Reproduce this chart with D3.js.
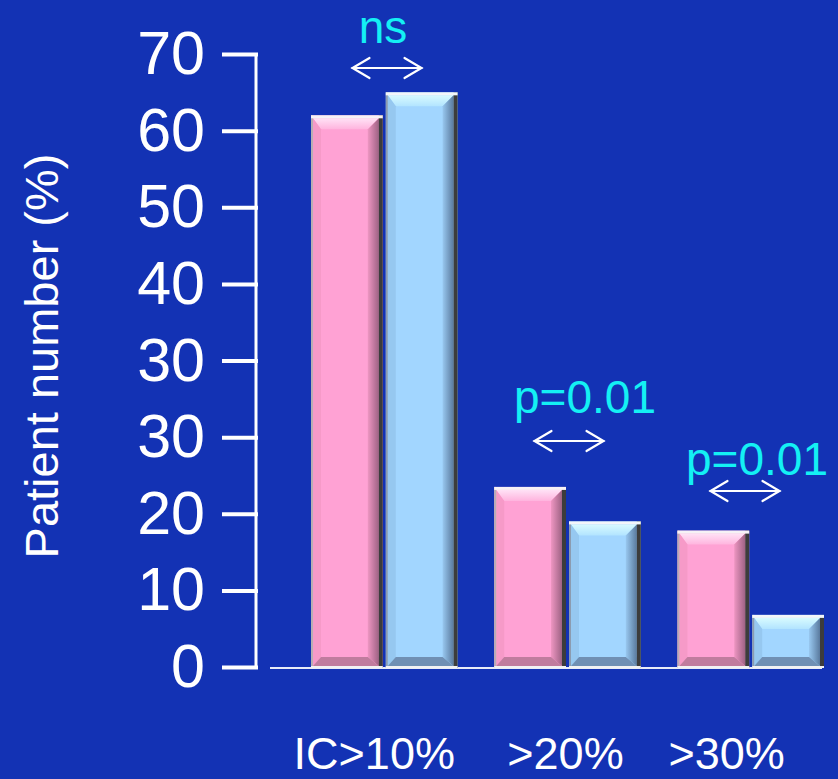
<!DOCTYPE html>
<html>
<head>
<meta charset="utf-8">
<script src="https://cdn.jsdelivr.net/npm/d3@7"></script>
<style>
  html, body { margin: 0; padding: 0; background: #1332b4; }
  svg { display: block; }
  text { font-family: "Liberation Sans", Arial, sans-serif; }
</style>
</head>
<body>
<svg id="chart" width="838" height="779"></svg>
<script>
// Threshold groups along the x axis
const categories = ["IC>10%", ">20%", ">30%"];
// Patient share (%) per group, two cohorts
const pinkValues = [62, 23.5, 17.8];
const blueValues = [65, 19, 6.8];
// Y-axis tick labels, bottom to top (as printed on the slide)
const yTickLabels = ["0", "10", "20", "30", "30", "40", "50", "60", "70"];
// Significance note above each group
const statLabels = ["ns", "p=0.01", "p=0.01"];

const W = 838, H = 779;
const svg = d3.select("#chart");
svg.append("rect").attr("width", W).attr("height", H).attr("fill", "#1332b4");

const y0 = 667, yTop = 54;
// tick index -> pixel
const yIndex = d3.scaleLinear().domain([0, yTickLabels.length - 1]).range([y0, yTop]);
// value -> tick index (the printed labels repeat 30, so values above 30 sit one step higher)
const valueToIndex = d3.scaleLinear().domain([0, 30, 40, 70]).range([0, 3, 5, 8]);
const y = v => yIndex(valueToIndex(v));

const x = d3.scaleBand().domain(categories).range([311, 824]).paddingInner(0.2).paddingOuter(0);
const series = ["pink", "blue"];
const xSub = d3.scaleBand().domain(series).range([0, x.bandwidth()]).paddingInner(0.04);

const palettes = {
  pink: { face: "#ffa2d4", top0: "#ffe2f6", top1: "#ffb4de", left: "#f69ac8",
          right0: "#ee96c2", right1: "#9e6284", bottom: "#c07c9e",
          fL: "#b8aeb4", fT: "#f6f2f6", fR: "#3c3c3c", fB: "#f2f2f2" },
  blue: { face: "#a2d6ff", top0: "#d8fbff", top1: "#b2e4ff", left: "#96c8f0",
          right0: "#98c8f0", right1: "#5a7a9e", bottom: "#7090b4",
          fL: "#8c9cb0", fT: "#f2f6fa", fR: "#3c3c3c", fB: "#f2f2f2" }
};

const defs = svg.append("defs");
Object.entries(palettes).forEach(([k, p]) => {
  const gt = defs.append("linearGradient").attr("id", "top-" + k)
    .attr("x1", 0).attr("y1", 0).attr("x2", 0).attr("y2", 1);
  gt.append("stop").attr("offset", "0%").attr("stop-color", p.top0);
  gt.append("stop").attr("offset", "100%").attr("stop-color", p.top1);
  const gr = defs.append("linearGradient").attr("id", "right-" + k)
    .attr("x1", 0).attr("y1", 0).attr("x2", 1).attr("y2", 0);
  gr.append("stop").attr("offset", "0%").attr("stop-color", p.right0);
  gr.append("stop").attr("offset", "100%").attr("stop-color", p.right1);
});

// Bevelled bar: frame strips plus four trapezoid facets around a flat face
function bevelBar(g, bx, by, bw, bh, key) {
  const p = palettes[key];
  const pts = a => a.map(d => d.join(",")).join(" ");
  g.append("rect").attr("x", bx).attr("y", by).attr("width", bw).attr("height", bh).attr("fill", p.face);
  const ix = bx + 2, iy = by + 3, iw = bw - 6, ih = bh - 5;
  const t = Math.min(11, ih / 2), b = Math.min(9, ih / 2), s = 8, r = 11;
  g.append("polygon").attr("fill", "url(#top-" + key + ")")
    .attr("points", pts([[ix, iy], [ix + iw, iy], [ix + iw - r, iy + t], [ix + s, iy + t]]));
  g.append("polygon").attr("fill", p.left)
    .attr("points", pts([[ix, iy], [ix + s, iy + t], [ix + s, iy + ih - b], [ix, iy + ih]]));
  g.append("polygon").attr("fill", "url(#right-" + key + ")")
    .attr("points", pts([[ix + iw, iy], [ix + iw, iy + ih], [ix + iw - r, iy + ih - b], [ix + iw - r, iy + t]]));
  g.append("polygon").attr("fill", p.bottom)
    .attr("points", pts([[ix, iy + ih], [ix + s, iy + ih - b], [ix + iw - r, iy + ih - b], [ix + iw, iy + ih]]));
  // frame
  g.append("rect").attr("x", bx).attr("y", by).attr("width", 2).attr("height", bh).attr("fill", p.fL);
  g.append("rect").attr("x", bx + bw - 4).attr("y", by).attr("width", 4).attr("height", bh).attr("fill", p.fR);
  g.append("rect").attr("x", bx).attr("y", by).attr("width", bw).attr("height", 3).attr("fill", p.fT);
  g.append("rect").attr("x", bx).attr("y", by + bh - 2).attr("width", bw).attr("height", 2).attr("fill", p.fB);
}

// baseline
svg.append("line").attr("x1", 270).attr("x2", 822).attr("y1", y0 + 1).attr("y2", y0 + 1)
  .attr("stroke", "#e8ecf8").attr("stroke-width", 2);

const bars = svg.append("g");
categories.forEach((c, i) => {
  const vals = { pink: pinkValues[i], blue: blueValues[i] };
  series.forEach(sKey => {
    const bx = x(c) + xSub(sKey);
    const by = y(vals[sKey]);
    bevelBar(bars, bx, by, xSub.bandwidth(), y0 + 1 - by, sKey);
  });
});

// y axis
const axis = d3.axisLeft(yIndex)
  .tickValues(d3.range(yTickLabels.length))
  .tickFormat(i => yTickLabels[i])
  .tickSize(34).tickPadding(17);
const ag = svg.append("g").attr("transform", "translate(256,0)").call(axis);
ag.select(".domain").remove();
ag.append("line").attr("x1", 0).attr("x2", 0).attr("y1", yTop - 1).attr("y2", y0 + 1)
  .attr("stroke", "#ffffff").attr("stroke-width", 3);
ag.selectAll(".tick line").attr("stroke", "#ffffff").attr("stroke-width", 4).attr("x2", -34).attr("x1", 2);
ag.selectAll(".tick text").attr("fill", "#ffffff").attr("font-size", 61)
  .attr("font-family", "'Liberation Sans', Arial, sans-serif").attr("dy", "0.32em");

// y title
svg.append("text").attr("transform", "translate(58,356) rotate(-90)")
  .attr("text-anchor", "middle").attr("fill", "#ffffff").attr("font-size", 47)
  .text("Patient number (%)");

// x labels
const xLabelShift = [-10, -2, -24];
svg.append("g").selectAll("text").data(categories).join("text")
  .attr("x", (d, i) => x(d) + x.bandwidth() / 2 + xLabelShift[i])
  .attr("y", 769).attr("text-anchor", "middle").attr("fill", "#ffffff").attr("font-size", 45)
  .text(d => d);

// significance notes with double-headed arrows
const noteLayout = [
  { tx: 383, ty: 43, ax: 387, ay: 68 },
  { tx: 585, ty: 413, ax: 569, ay: 441 },
  { tx: 757, ty: 475, ax: 745, ay: 491 }
];
const notes = svg.append("g");
statLabels.forEach((lab, i) => {
  const L = noteLayout[i];
  notes.append("text").attr("x", L.tx).attr("y", L.ty).attr("text-anchor", "middle")
    .attr("fill", "#14f0f4").attr("font-size", 46).text(lab);
  const half = 34.5, hx = 17, hy = 10;
  const a = notes.append("g").attr("stroke", "#ffffff").attr("stroke-width", 2.2)
    .attr("fill", "none").attr("stroke-linecap", "round");
  a.append("line").attr("x1", L.ax - half).attr("x2", L.ax + half).attr("y1", L.ay).attr("y2", L.ay);
  a.append("polyline").attr("points",
    `${L.ax - half + hx},${L.ay - hy} ${L.ax - half},${L.ay} ${L.ax - half + hx},${L.ay + hy}`);
  a.append("polyline").attr("points",
    `${L.ax + half - hx},${L.ay - hy} ${L.ax + half},${L.ay} ${L.ax + half - hx},${L.ay + hy}`);
});
</script>
</body>
</html>
